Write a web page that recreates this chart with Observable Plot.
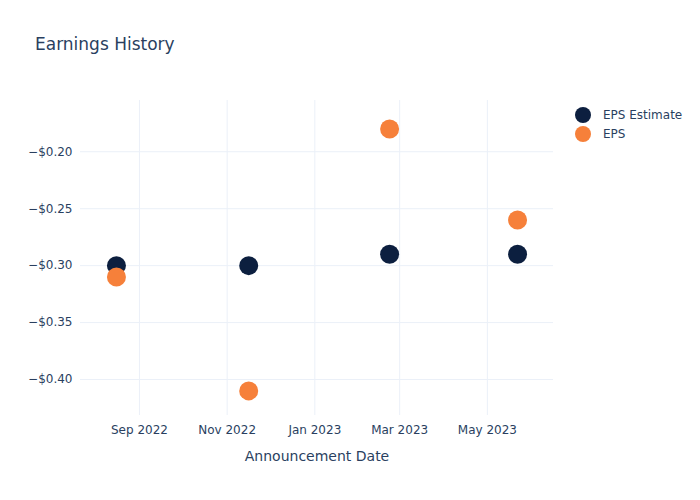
<!DOCTYPE html>
<html>
<head>
<meta charset="utf-8">
<script src="https://cdn.jsdelivr.net/npm/d3@7"></script>
<script src="https://cdn.jsdelivr.net/npm/@observablehq/plot@0.6"></script>
<style>
  html, body { margin: 0; padding: 0; background: #fff; }
  #wrap { position: relative; width: 700px; height: 500px; font-family: "DejaVu Sans", sans-serif; color: #2a3f5f; }
  #title { position: absolute; left: 35px; top: 34px; font-size: 17px; }
  #legend { position: absolute; left: 575px; top: 105px; font-size: 12px; }
  .item { display: flex; align-items: center; height: 19px; }
  .sw { width: 16px; height: 16px; border-radius: 50%; margin-right: 12px; }
</style>
</head>
<body>
<div id="wrap">
  <div id="chart"></div>
  <div id="title">Earnings History</div>
  <div id="legend"></div>
</div>
<script>
const dates = ["2022-08-16", "2022-11-16", "2023-02-22", "2023-05-22"];
const epsEstimate = [-0.30, -0.30, -0.29, -0.29];
const eps = [-0.31, -0.41, -0.18, -0.26];
const seriesNames = ["EPS Estimate", "EPS"];
const seriesColors = ["#0c1f3f", "#f6803a"];
const yTicks = [-0.20, -0.25, -0.30, -0.35, -0.40];
const xTicks = ["2022-09-01", "2022-11-01", "2023-01-01", "2023-03-01", "2023-05-01"];

const data = [];
dates.forEach((d, i) => {
  data.push({date: new Date(d + "T00:00"), value: epsEstimate[i], series: seriesNames[0]});
  data.push({date: new Date(d + "T00:00"), value: eps[i], series: seriesNames[1]});
});
const xt = xTicks.map(d => new Date(d + "T00:00"));
const fmtY = v => "\u2212$" + Math.abs(v).toFixed(2);
const fmtX = d3.timeFormat("%b %Y");

const chart = Plot.plot({
  width: 700,
  height: 500,
  marginLeft: 80,
  marginRight: 147,
  marginTop: 100,
  marginBottom: 85,
  style: {fontFamily: "DejaVu Sans, sans-serif", fontSize: "12px", color: "#2a3f5f", background: "#fff"},
  x: {type: "utc", domain: [new Date("2022-07-22T00:00"), new Date("2023-06-16T00:00")]},
  y: {domain: [-0.4316, -0.155]},
  color: {domain: seriesNames, range: seriesColors},
  marks: [
    Plot.gridX(xt, {stroke: "#ebf0f8", strokeOpacity: 1}),
    Plot.gridY(yTicks, {stroke: "#ebf0f8", strokeOpacity: 1}),
    Plot.axisX(xt, {tickSize: 0, tickPadding: 10, tickFormat: fmtX, fill: "#2a3f5f", fontSize: 12, label: null}),
    Plot.axisY(yTicks, {tickSize: 0, tickPadding: 8, tickFormat: fmtY, fill: "#2a3f5f", fontSize: 12, label: null}),
    Plot.text(["Announcement Date"], {frameAnchor: "bottom", dy: 45, fill: "#2a3f5f", fontSize: 14}),
    Plot.dot(data, {x: "date", y: "value", fill: "series", r: 9.5})
  ]
});
document.getElementById("chart").appendChild(chart);

const leg = document.getElementById("legend");
seriesNames.forEach((n, i) => {
  const it = document.createElement("div");
  it.className = "item";
  it.innerHTML = `<span class="sw" style="background:${seriesColors[i]}"></span><span>${n}</span>`;
  leg.appendChild(it);
});
</script>
</body>
</html>
